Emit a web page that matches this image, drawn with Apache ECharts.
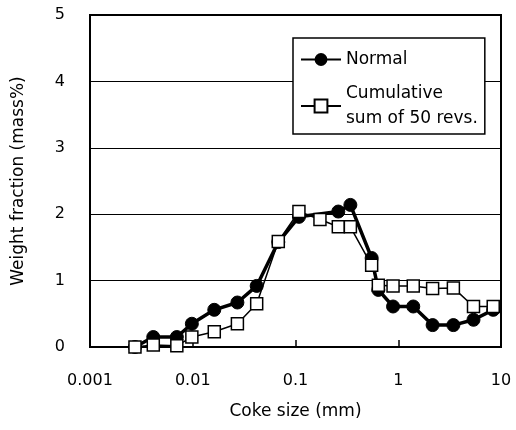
<!DOCTYPE html>
<html>
<head>
<meta charset="utf-8">
<script src="https://cdn.jsdelivr.net/npm/echarts@6/dist/echarts.min.js"></script>
<style>html,body{margin:0;padding:0;background:#fff}#c{width:516px;height:430px}</style>
</head>
<body>
<div id="c"></div>
<script>
var sizes = [0.00274, 0.00413, 0.0070, 0.0098, 0.0162, 0.0272, 0.0419, 0.068, 0.108, 0.173, 0.261, 0.342, 0.551, 0.64, 0.89, 1.40, 2.16, 3.44, 5.4, 8.4];
var normal = [0, 0.15, 0.15, 0.35, 0.56, 0.67, 0.92, 1.58, 1.96, null, 2.04, 2.14, 1.34, 0.86, 0.61, 0.61, 0.33, 0.33, 0.41, 0.56];
var cumulative = [0, 0.03, 0.02, 0.15, 0.23, 0.35, 0.65, 1.59, 2.04, 1.92, 1.81, 1.81, 1.23, 0.93, 0.92, 0.92, 0.88, 0.89, 0.61, 0.61];
var seriesNames = ['Normal', 'Cumulative sum of 50 revs.'];
var yTicks = [0, 1, 2, 3, 4, 5];

function pairs(xs, ys) {
  var out = [];
  xs.forEach(function (x, i) { if (ys[i] !== null) out.push([x, ys[i]]); });
  return out;
}

var font = "'DejaVu Sans', sans-serif";
var chart = echarts.init(document.getElementById('c'));
chart.setOption({
  animation: false,
  textStyle: { fontFamily: font, color: '#000' },
  grid: { left: 90, right: 15, top: 15, bottom: 83, show: true, borderColor: '#000', borderWidth: 2, backgroundColor: 'transparent' },
  legend: {
    orient: 'vertical', left: 293, top: 38,
    padding: [9, 7, 3, 7],
    itemGap: 9, itemWidth: 40, itemHeight: 16,
    backgroundColor: '#fff', borderColor: '#000', borderWidth: 1.5, borderRadius: 0,
    textStyle: { fontSize: 17, color: '#000', fontFamily: font, lineHeight: 25 },
    formatter: function (n) { return n === seriesNames[1] ? 'Cumulative\nsum of 50 revs.' : n; },
    data: seriesNames
  },
  xAxis: {
    type: 'log', logBase: 10, min: 0.001, max: 10,
    name: 'Coke size (mm)', nameLocation: 'middle', nameGap: 56,
    nameTextStyle: { fontSize: 17, color: '#000', fontFamily: font },
    axisLine: { lineStyle: { color: '#000', width: 2 } },
    axisTick: { inside: true, length: 7, lineStyle: { color: '#000', width: 1.5 } },
    minorTick: { show: false },
    splitLine: { show: false },
    axisLabel: { fontSize: 16, color: '#000', margin: 26, fontFamily: font,
      formatter: function (v) { return String(Number(Number(v).toPrecision(6))); } }
  },
  yAxis: {
    type: 'value', min: yTicks[0], max: yTicks[yTicks.length - 1], interval: 1,
    name: 'Weight fraction (mass%)', nameLocation: 'middle', nameGap: 63,
    nameTextStyle: { fontSize: 17, color: '#000', fontFamily: font },
    axisLine: { show: true, lineStyle: { color: '#000', width: 2 } },
    axisTick: { show: false },
    splitLine: { show: true, lineStyle: { color: '#000', width: 1 } },
    axisLabel: { fontSize: 16, color: '#000', margin: 25, fontFamily: font }
  },
  series: [
    {
      name: seriesNames[1], type: 'line', data: pairs(sizes, cumulative),
      symbol: 'rect', symbolSize: 12, showAllSymbol: true,
      lineStyle: { color: '#000', width: 1.5 },
      itemStyle: { color: '#fff', borderColor: '#000', borderWidth: 1.5 },
      z: 3
    },
    {
      name: seriesNames[0], type: 'line', data: pairs(sizes, normal),
      symbol: 'circle', symbolSize: 13, showAllSymbol: true,
      lineStyle: { color: '#000', width: 3.5 },
      itemStyle: { color: '#000', borderColor: '#000' },
      z: 2
    }
  ]
});
</script>
</body>
</html>
